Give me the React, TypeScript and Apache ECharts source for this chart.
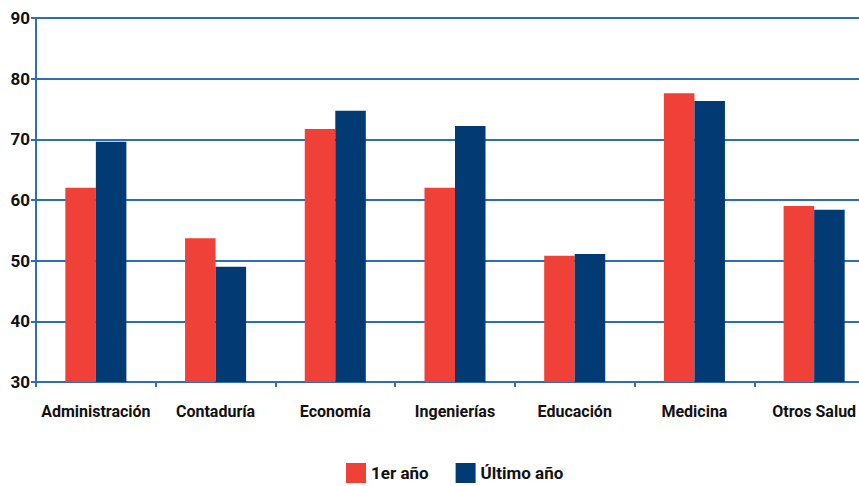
import React, { useEffect, useRef } from "react";
import * as echarts from "echarts";

const categories = ["Administración", "Contaduría", "Economía", "Ingenierías", "Educación", "Medicina", "Otros Salud"];
const primerAno = [62.0, 53.7, 71.7, 62.0, 50.8, 77.6, 59.0];
const ultimoAno = [69.6, 49.0, 74.7, 72.2, 51.1, 76.3, 58.4];
const seriesNames = ["1er año", "Último año"];

const FONT = 'Roboto, "Liberation Sans", sans-serif';

export default function App() {
  const ref = useRef<HTMLDivElement>(null);
  useEffect(() => {
    document.body.style.margin = "0";
    const chart = echarts.init(ref.current!, null, { renderer: "svg" });
    chart.setOption({
      animation: false,
      backgroundColor: "#ffffff",
      textStyle: { fontFamily: FONT },
      grid: { left: 36, top: 18, width: 838, height: 364, containLabel: false, outerBoundsMode: "none" },
      legend: {
        top: 463,
        left: 346,
        padding: 0,
        itemWidth: 20,
        itemHeight: 20,
        itemGap: 27,
        icon: "rect",
        textStyle: { fontFamily: FONT, fontWeight: "bold", fontSize: 17, color: "#111" },
        data: seriesNames,
      },
      xAxis: {
        type: "category",
        data: categories,
        axisLine: { lineStyle: { color: "#2f6eb5", width: 2 } },
        axisTick: { show: true, length: 5, lineStyle: { color: "#2f6eb5", width: 2 } },
        axisLabel: { interval: 0, margin: 21, fontFamily: FONT, fontWeight: "bold", fontSize: 16, color: "#111" },
      },
      yAxis: {
        type: "value",
        min: 30,
        max: 90,
        interval: 10,
        axisLine: { show: true, lineStyle: { color: "#2f6eb5", width: 2 } },
        axisTick: { show: true, length: 5, lineStyle: { color: "#2f6eb5", width: 2 } },
        axisLabel: { margin: 6, fontFamily: FONT, fontWeight: "bold", fontSize: 17, color: "#111" },
        splitLine: { show: true, lineStyle: { color: "#2f6eb5", width: 2 } },
      },
      series: [
        {
          name: seriesNames[0],
          type: "bar",
          data: primerAno,
          barWidth: "25.5%",
          barGap: "0%",
          itemStyle: { color: "#ef4138" },
        },
        {
          name: seriesNames[1],
          type: "bar",
          data: ultimoAno,
          barWidth: "25.5%",
          barGap: "0%",
          itemStyle: { color: "#023a74" },
        },
      ],
    });
    return () => chart.dispose();
  }, []);
  return <div ref={ref} style={{ width: 859, height: 486 }} />;
}
